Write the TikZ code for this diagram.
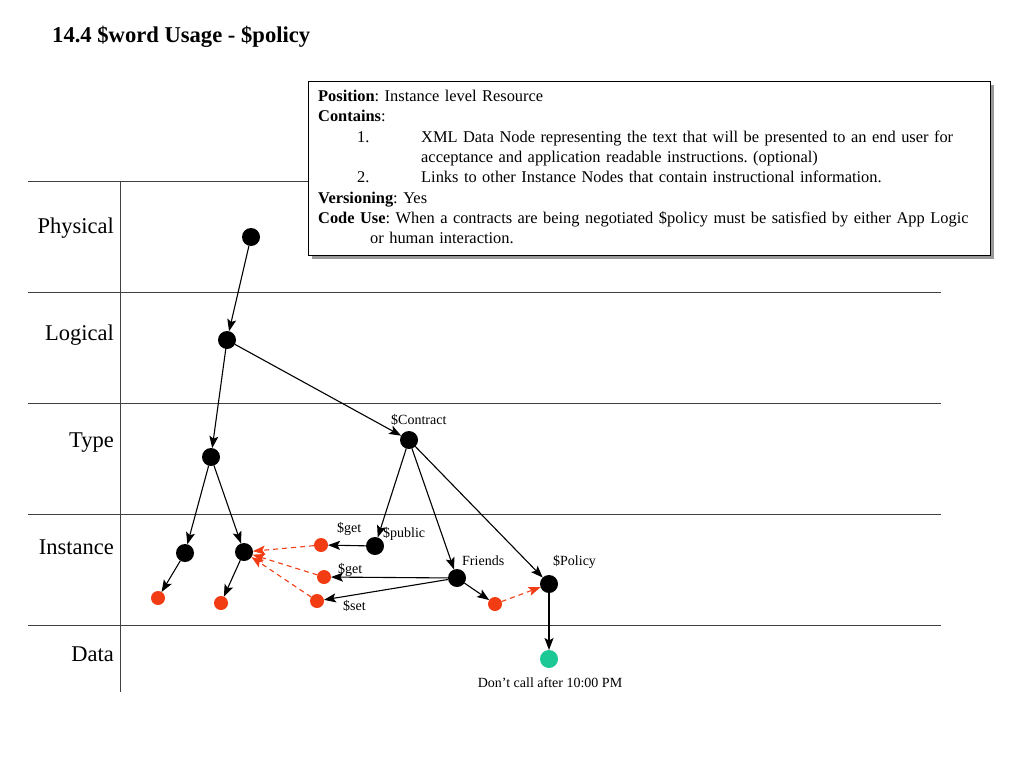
\documentclass[tikz,border=0pt]{standalone}
\usepackage{fontspec}
\setmainfont{Liberation Serif}
\usetikzlibrary{arrows.meta,positioning}
\definecolor{lred}{RGB}{242,60,20}
\definecolor{lgreen}{RGB}{28,200,150}
\tikzset{
    point/.style={circle,fill=black,inner sep=0pt,outer sep=0pt,minimum size=18pt},
    rpoint/.style={point,fill=lred,minimum size=14pt},
    gpoint/.style={point,fill=lgreen},
    arr/.style={->,>={Stealth[length=12pt,width=9pt,inset=2.5pt]},line width=1.1pt},
    rarr/.style={arr,lred,dash pattern=on 5pt off 4pt},
    grid line/.style={black!75,line width=1pt},
    lane/.style={anchor=base east,inner sep=0pt,font=\fontsize{22.5}{26}\selectfont},
    lbl/.style={anchor=base west,inner sep=0pt,font=\fontsize{14}{16}\selectfont},
}

\begin{document}
\frenchspacing
\begin{tikzpicture}[x=1pt,y=-1pt]
    \useasboundingbox (0,0) rectangle (1024,768);
    \node[anchor=base west,inner sep=0pt,font=\bfseries\fontsize{22.6}{26}\selectfont] (title) at (52,43) {14.4 \$word Usage - \$policy};

    % lanes
    \foreach \y in {181,292,403,514,625}
        \draw[grid line] (28,\y) -- (941,\y);
    \draw[grid line] (120,181) -- (120,692);
    \foreach \name/\y in {Physical/233,Logical/340,Type/447,Instance/554,Data/661}
        \node[lane] (lane\name) at (114,\y) {\name};

    % info box
    \fill[black!40] (312,85) rectangle (994,259);
    \draw[fill=white,line width=1pt] (308,81) rectangle (990,255);
    \node[anchor=north west,inner sep=0pt,text width=680pt,align=left,font=\fontsize{16.4}{20.3}\selectfont] (info) at (318,90) {%
        \textbf{Position}: Instance level Resource\\
        \textbf{Contains}:\\
        \hspace*{39pt}\makebox[64pt][l]{1.}XML Data Node representing the text that will be presented to an end user for\\
        \hspace*{103pt}acceptance and application readable instructions. (optional)\\
        \hspace*{39pt}\makebox[64pt][l]{2.}Links to other Instance Nodes that contain instructional information.\\
        \textbf{Versioning}: Yes\\
        \textbf{Code Use}: When a contracts are being negotiated \$policy must be satisfied by either App Logic\\
        \hspace*{52pt}or human interaction.};

    % resources
    \node[point] (phys) at (251,237) {};
    \node[point] (logi) at (227,340) {};
    \node[point] (type) at (211,457) {};
    \node[point] (contract) at (409,440) {};
    \node[point] (inst1) at (185,553) {};
    \node[point] (inst2) at (244,552) {};
    \node[point] (public) at (375,546) {};
    \node[point] (friends) at (457,578) {};
    \node[point] (policy) at (549,584) {};
    \node[rpoint] (red1) at (158,598) {};
    \node[rpoint] (red2) at (221,603) {};
    \node[rpoint] (get1) at (321,545) {};
    \node[rpoint] (get2) at (324,577) {};
    \node[rpoint] (setn) at (317,601) {};
    \node[rpoint] (red3) at (495,604) {};
    \node[gpoint] (data) at (549,659) {};

    \node[lbl] (lcontract) at (391,424) {\$Contract};
    \node[lbl] (lget1) at (337,532) {\$get};
    \node[lbl] (lpublic) at (383,537) {\$public};
    \node[lbl] (lget2) at (338,573) {\$get};
    \node[lbl] (lset) at (343,610) {\$set};
    \node[lbl] (lfriends) at (462,565) {Friends};
    \node[lbl] (lpolicy) at (553,565) {\$Policy};
    \node[lbl,anchor=base] (ldata) at (550,687) {Don’t call after 10:00 PM};

    \draw[arr] (phys) -- (logi);
    \draw[arr] (logi) -- (type);
    \draw[arr] (logi) -- (contract);
    \draw[arr] (type) -- (inst1);
    \draw[arr] (type) -- (inst2);
    \draw[arr] (contract) -- (public);
    \draw[arr] (contract) -- (friends);
    \draw[arr] (contract) -- (policy);
    \draw[arr] (inst1) -- (red1);
    \draw[arr] (inst2) -- (red2);
    \draw[arr] (public) -- (get1);
    \draw[arr] (friends) -- (get2);
    \draw[arr] (friends) -- (setn);
    \draw[arr] (friends) -- (red3);
    \draw[arr] (policy) -- (data);

    \draw[rarr] (get1) -- (inst2);
    \draw[rarr] (get2) -- (inst2);
    \draw[rarr] (setn) -- (inst2);
    \draw[rarr] (red3) -- (policy);
\end{tikzpicture}
\end{document}
